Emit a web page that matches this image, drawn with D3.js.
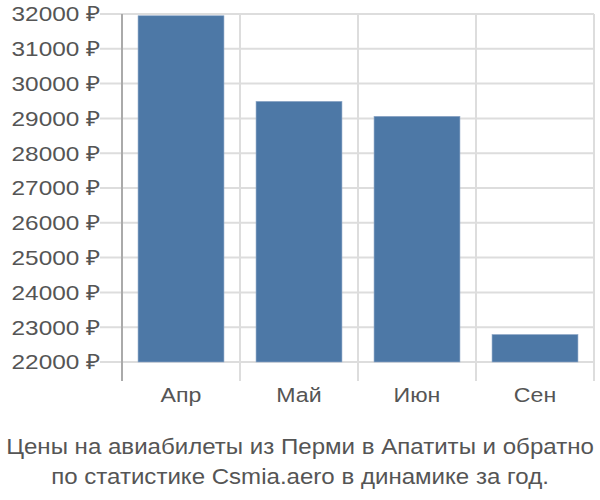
<!DOCTYPE html>
<html><head><meta charset="utf-8">
<script src="https://cdn.jsdelivr.net/npm/d3@7"></script>
<style>body{margin:0;background:#fff}svg{display:block}text{font-family:"Liberation Sans",Arial,sans-serif}</style>
</head><body><svg id="c" width="600" height="500"></svg>
<script>
const categories = ["Апр", "Май", "Июн", "Сен"];
const values = [31950, 29490, 29060, 22790];
const yTicks = [22000, 23000, 24000, 25000, 26000, 27000, 28000, 29000, 30000, 31000, 32000];
const titleLines = ["Цены на авиабилеты из Перми в Апатиты и обратно", "по статистике Csmia.aero в динамике за год."];

const svg = d3.select("#c");
const pL = 122, pR = 594, pT = 14, pB = 362;
const sx = 1.13;
const x = d3.scaleBand().domain(categories).range([pL, pR]).padding(0);
const y = d3.scaleLinear().domain([22000, 32000]).range([pB, pT]);

// horizontal grid
svg.append("g").selectAll("line").data(yTicks).join("line")
  .attr("x1", 100).attr("x2", pR).attr("y1", d => y(d)).attr("y2", d => y(d))
  .attr("stroke", "#dddddd").attr("stroke-width", 2);
// vertical grid
const vb = categories.map(c => x(c) + x.bandwidth());
svg.append("g").selectAll("line").data(vb).join("line")
  .attr("x1", d => d).attr("x2", d => d).attr("y1", pT).attr("y2", 381)
  .attr("stroke", "#dddddd").attr("stroke-width", 2);
// y axis line
svg.append("line").attr("x1", pL).attr("x2", pL).attr("y1", pT).attr("y2", 381)
  .attr("stroke", "#aaaaaa").attr("stroke-width", 2);

// bars
const off = x.bandwidth() * 0.136;
svg.append("g").selectAll("rect").data(values).join("rect")
  .attr("x", (d, i) => x(categories[i]) + off)
  .attr("width", x.bandwidth() - 2 * off)
  .attr("y", d => y(d))
  .attr("height", d => y(22000) - y(d))
  .attr("fill", "#4d78a6").attr("stroke", "#8fa9c8").attr("stroke-width", 0.6);

// y labels
svg.append("g").selectAll("text").data(yTicks).join("text")
  .attr("transform", d => `translate(100,${y(d)}) scale(1.16,1)`)
  .attr("dy", "0.35em")
  .attr("text-anchor", "end").attr("font-size", 21).attr("fill", "#555")
  .text(d => d + " ₽");
// x labels
svg.append("g").selectAll("text").data(categories).join("text")
  .attr("transform", d => `translate(${x(d) + x.bandwidth() / 2},402) scale(${sx},1)`)
  .attr("text-anchor", "middle").attr("font-size", 20.5).attr("fill", "#555")
  .text(d => d);
// title
svg.append("g").selectAll("text").data(titleLines).join("text")
  .attr("transform", (d, i) => `translate(300,${454 + i * 30}) scale(1.12,1)`)
  .attr("text-anchor", "middle").attr("font-size", 21.5).attr("fill", "#555")
  .text(d => d);
</script></body></html>
